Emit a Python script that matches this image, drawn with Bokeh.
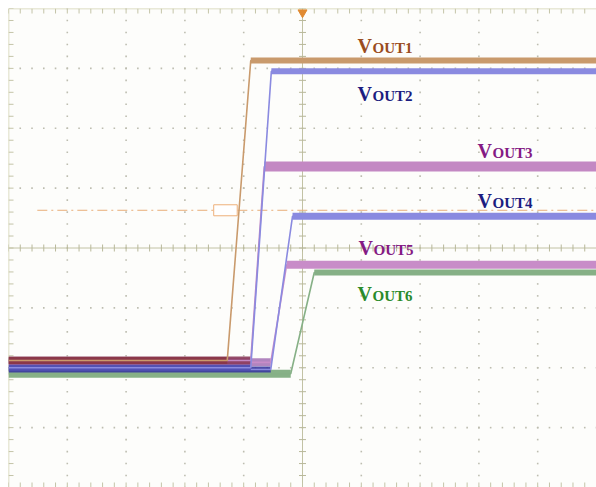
import numpy as np
from bokeh.plotting import figure
from bokeh.embed import file_html
from bokeh.resources import INLINE
from bokeh.core.properties import value

# ---- data (oscilloscope divisions: time 0..10, amplitude 0..8) ----
names = ["OUT1", "OUT2", "OUT3", "OUT4", "OUT5", "OUT6"]
t1 = [0.0, 3.72, 4.12, 10.0]; v1 = [2.12, 2.12, 7.13, 7.13]
t2 = [0.0, 4.12, 4.47, 10.0]; v2 = [2.00, 2.00, 6.95, 6.95]
t3 = [0.0, 4.12, 4.35, 10.0]; v3 = [2.12, 2.12, 5.36, 5.36]
t4 = [0.0, 4.46, 4.83, 10.0]; v4 = [1.97, 1.97, 4.53, 4.53]
t5 = [0.0, 4.46, 4.73, 10.0]; v5 = [2.09, 2.09, 3.72, 3.72]
t6 = [0.0, 4.80, 5.20, 10.0]; v6 = [1.90, 1.90, 3.59, 3.59]
trig_level = 4.63
ref_start = 0.49

traces = [(t6, v6), (t5, v5), (t3, v3), (t4, v4), (t2, v2), (t1, v1)]
trace_colors = ["#86b086", "#c88cc8", "#c388c3", "#8a8ae0", "#8a8ae0", "#c99a6c"]
base_colors = ["#7aa87a", "#a878b8", "#8a3a5a", "#3a3aa0", "#4a4ab0", "#8a3646"]
high_w = [6, 8, 10, 7, 6, 6]
base_w = [8, 8, 8, 6, 6, 7]

label_colors = ["#9a4c1e", "#1c1c80", "#841a84", "#1c1c80", "#841a84", "#2a8a2a"]
label_x = [5.935, 5.935, 7.976, 7.976, 5.952, 5.935]
label_y = [7.382, 6.564, 5.628, 4.793, 3.992, 3.240]

W, H = 588, 479
p = figure(width=W + 8, height=H + 8, x_range=(0, 10), y_range=(0, 8),
           output_backend="svg", toolbar_location=None, min_border=0,
           min_border_left=8, min_border_top=8,
           background_fill_color="#fdfdfb", border_fill_color="#ffffff")
p.axis.visible = False
p.grid.visible = False
p.outline_line_color = None

pxx = 10 / W
pxy = 8 / H
grid_col = "#bdbdb0"
frame_col = "#d4d4b4"

# dotted graticule
ys = np.round(np.arange(0, 8.001, 0.2), 3)
xs = np.round(np.arange(0, 10.001, 0.2), 3)
dx, dy = [], []
for gx in range(1, 10):
    if gx == 5:
        continue
    dx += [gx] * len(ys); dy += list(ys)
for gy in range(1, 8):
    if gy == 4:
        continue
    dx += list(xs); dy += [gy] * len(xs)
p.scatter(dx, dy, marker="square", size=1.6, color=grid_col, line_color=None)

# center crosshair
p.line([0, 10], [4, 4], line_color="#c2c2a4", line_width=1)
p.line([5, 5], [0, 8], line_color="#c2c2a4", line_width=1)
p.segment(x0=list(xs), y0=[4 - 3.5 * pxy] * len(xs), x1=list(xs), y1=[4 + 3.5 * pxy] * len(xs),
          line_color="#b8b89a", line_width=1)
p.segment(x0=[5 - 3.5 * pxx] * len(ys), y0=list(ys), x1=[5 + 3.5 * pxx] * len(ys), y1=list(ys),
          line_color="#b8b89a", line_width=1)

# frame edges with ticks
p.line([0, 0], [0, 8], line_color=frame_col, line_width=1.5)
p.line([0, 10], [8, 8], line_color=frame_col, line_width=1.5)
p.segment(x0=[0] * len(ys), y0=list(ys), x1=[5 * pxx] * len(ys), y1=list(ys), line_color="#c4c4a8")
p.segment(x0=list(xs), y0=[8] * len(xs), x1=list(xs), y1=[8 - 5 * pxy] * len(xs), line_color="#c4c4a8")
p.segment(x0=list(xs), y0=[0] * len(xs), x1=list(xs), y1=[5 * pxy] * len(xs), line_color="#c4c4a8")

# reference level
p.line([ref_start, 10], [trig_level, trig_level], line_color="#e8ad78", line_width=1,
       line_dash="10 4 2 4")
p.rect(x=[3.69], y=[trig_level], width=[0.40], height=[11 * pxy], fill_color="#ffffff",
       line_color="#eeb07a", line_width=1)

# traces
for (t, v), c, bc, hw, bw in zip(traces, trace_colors, base_colors, high_w, base_w):
    p.line(t[:2], v[:2], line_color=bc, line_width=bw, line_alpha=0.9)
    p.line(t, v, line_color=c, line_width=1.6)
    p.line(t[2:], v[2:], line_color=c, line_width=hw)

# trigger marker
p.scatter([5], [8 - 4 * pxy], marker="inverted_triangle", size=9, color="#e08a32")

# labels
p.text(x=label_x, y=label_y, text=["V"] * 6, text_color=label_colors,
       text_font=value("Liberation Serif"), text_font_style="bold",
       text_font_size="20px", text_baseline="alphabetic", text_align="left")
p.text(x=label_x, y=label_y, text=names, text_color=label_colors,
       text_font=value("Liberation Serif"), text_font_style="bold",
       text_font_size="15px", text_baseline="alphabetic", text_align="left",
       x_offset=15, y_offset=2)

open("out.html", "w").write(file_html(p, INLINE))
